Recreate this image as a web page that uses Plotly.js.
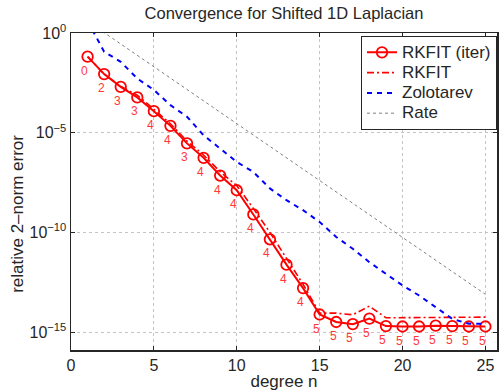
<!DOCTYPE html>
<html>
<head>
<meta charset="utf-8">
<script src="https://cdn.plot.ly/plotly-3.0.1.min.js"></script>
<style>html,body{margin:0;padding:0;background:#fff;}#chart{width:500px;height:391px;}</style>
</head>
<body>
<div id="chart"></div>
<script>
// degree n
const degrees = [1,2,3,4,5,6,7,8,9,10,11,12,13,14,15,16,17,18,19,20,21,22,23,24,25];
// RKFIT (iter) relative error
const rkfitIter = [6.5e-2,8.7e-3,2.0e-3,5.9e-4,1.2e-4,2.2e-5,2.9e-6,5.5e-7,7.1e-8,1.3e-8,7.9e-10,4.5e-11,2.4e-12,1.6e-13,7.6e-15,3.2e-15,2.5e-15,4.7e-15,2.0e-15,1.9e-15,1.9e-15,2.1e-15,2.0e-15,1.9e-15,1.9e-15];
// iterations used at each degree
const iterLabels = ["0","2","3","3","4","4","3","4","4","4","4","4","4","4","5","5","5","5","5","5","5","5","5","5","5"];
// RKFIT relative error
const rkfit = [6.5e-2,8.7e-3,2.1e-3,7.6e-4,1.5e-4,2.8e-5,3.8e-6,7.6e-7,1.1e-7,2.2e-8,1.6e-9,1.0e-10,5.0e-12,2.5e-13,8.9e-15,8.9e-15,7.4e-15,2.0e-14,5.2e-15,5.2e-15,5.2e-15,5.2e-15,5.2e-15,5.2e-15,5.6e-15];
// Zolotarev relative error
const zolotarev = [4.0,1.15e-1,3.6e-2,5.2e-3,1.4e-3,2.4e-4,6.3e-5,7.4e-6,1.6e-6,3.4e-7,1.07e-7,1.6e-8,4.1e-9,1.3e-9,3.3e-10,5.9e-11,1.5e-11,3.2e-12,8.3e-13,2.2e-13,6.8e-14,1.8e-14,4.6e-15,2.6e-15,2.6e-15];
// predicted rate
const rate = [3.9,1.05,2.8e-1,7.6e-2,2.0e-2,5.4e-3,1.4e-3,3.9e-4,1.05e-4,2.8e-5,7.6e-6,2.0e-6,5.5e-7,1.5e-7,4.0e-8,1.05e-8,2.8e-9,7.6e-10,2.0e-10,5.5e-11,1.5e-11,4.0e-12,1.07e-12,2.9e-13,7.8e-14];
// tick labels
const xTicks = [0,5,10,15,20,25];
const yTickVals = [1, 1e-5, 1e-10, 1e-15];
const yTickText = ['10<sup>0</sup>', '10<sup>−5</sup>', '10<sup>−10</sup>', '10<sup>−15</sup>'];
const seriesNames = ['RKFIT (iter)', 'RKFIT', 'Zolotarev', 'Rate'];

const txt = '#262626';
const font = 'Liberation Sans, Arial, sans-serif';
const legName = s => '<span style="font-size:17px">' + s + '</span>';

const traces = [
  {x: degrees, y: rkfitIter, name: legName(seriesNames[0]), mode: 'lines+markers', type: 'scatter',
   line: {color: '#ff0000', width: 2},
   marker: {symbol: 'circle-open', size: 10.5, color: '#ff0000', line: {width: 1.8, color: '#ff0000'}}},
  {x: degrees, y: rkfit, name: legName(seriesNames[1]), mode: 'lines', type: 'scatter',
   line: {color: '#ff0000', width: 1.6, dash: '7px,3px,2px,3px'}},
  {x: degrees, y: zolotarev, name: legName(seriesNames[2]), mode: 'lines', type: 'scatter',
   line: {color: '#0000ff', width: 2, dash: '5px,5px'}},
  {x: degrees, y: rate, name: legName(seriesNames[3]), mode: 'lines', type: 'scatter',
   line: {color: '#808080', width: 1, dash: 'dot'}}
];

const annotations = degrees.map((d, i) => ({
  x: d, y: Math.log10(rkfitIter[i]), xref: 'x', yref: 'y',
  text: iterLabels[i], showarrow: false, xshift: -3, yshift: -14,
  font: {family: font, size: 12, color: '#ff3838'}
}));
annotations.push({
  text: 'relative 2–norm error', xref: 'paper', yref: 'paper', x: -0.124, y: 0.43,
  xanchor: 'center', yanchor: 'middle', textangle: -90, showarrow: false,
  font: {family: font, size: 17, color: txt}
});

const layout = {
  width: 500, height: 391,
  margin: {l: 71, r: 3, t: 33, b: 41},
  paper_bgcolor: '#fff', plot_bgcolor: '#fff',
  font: {family: font, color: txt, size: 16},
  title: {text: 'Convergence for Shifted 1D Laplacian', x: 0.568, xanchor: 'center', y: 0.966, yanchor: 'middle',
          font: {family: font, size: 16.5, color: txt}},
  xaxis: {
    range: [0, 25.7], tickvals: xTicks, ticktext: xTicks.map(String),
    showgrid: true, gridcolor: '#c4c4c4', griddash: 'dot', gridwidth: 1,
    zeroline: false, showline: true, linecolor: '#262626', linewidth: 1.5, mirror: 'ticks',
    ticks: 'inside', ticklen: 4, tickcolor: '#262626',
    tickfont: {family: font, size: 16, color: txt},
    title: {text: 'degree n', font: {family: font, size: 17, color: txt}, standoff: 2}
  },
  yaxis: {
    type: 'log', range: [-15.9, 0], tickvals: yTickVals, ticktext: yTickText,
    showgrid: true, gridcolor: '#c4c4c4', griddash: 'dot', gridwidth: 1,
    zeroline: false, showline: true, linecolor: '#262626', linewidth: 1.5, mirror: 'ticks',
    ticks: 'inside', ticklen: 4, tickcolor: '#262626',
    tickfont: {family: font, size: 16, color: txt}
  },
  showlegend: true,
  legend: {x: 1, xanchor: 'right', y: 0.99, yanchor: 'top', bgcolor: '#fff', bordercolor: '#262626', borderwidth: 1,
           font: {family: font, size: 13.3, color: txt}, tracegroupgap: 0, itemwidth: 30},
  annotations: annotations
};

Plotly.newPlot('chart', traces, layout, {staticPlot: true, displayModeBar: false});
</script>
</body>
</html>
